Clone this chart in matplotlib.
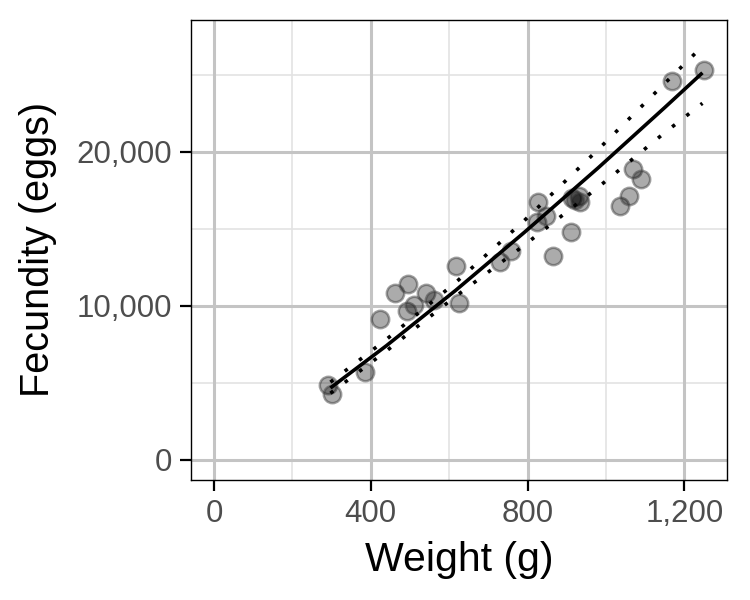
import numpy as np
import matplotlib
matplotlib.use("Agg")
import matplotlib.pyplot as plt

# data
weight = [290, 300, 385, 424, 462, 495, 492, 509, 541, 561, 618, 624, 730, 758,
          827, 824, 846, 865, 911, 914, 932, 934, 920, 1036, 1058, 1070, 1089,
          1168, 1250]
fecundity = [4894, 4298, 5714, 9143, 10807, 11429, 9640, 10062, 10807, 10360,
             12621, 10186, 12845, 13540, 16720, 15453, 15851, 13217, 14783,
             17019, 17143, 16720, 16900, 16472, 17143, 18882, 18261, 24596, 25342]

# fitted curve and its 95% band
fit_x = [297, 440, 617, 792, 980, 1150, 1246]
fit_y = [4675, 7420, 11020, 14780, 18960, 22880, 25130]
upper_y = [5050, 7830, 11530, 15550, 20150, 24450, 26850]
lower_y = [4330, 7080, 10630, 13950, 17700, 21250, 23150]

x_ticks = [0, 400, 800, 1200]
x_minor = [200, 600, 1000]
y_ticks = [0, 10000, 20000]
y_minor = [5000, 15000, 25000]

plt.rcParams['font.family'] = ['Liberation Sans', 'DejaVu Sans']

fig = plt.figure(figsize=(7.5, 6), dpi=100)
ax = fig.add_axes([0.255, 0.2, 0.714, 0.767])

for v in x_minor:
    ax.axvline(v, color='#e3e3e3', lw=1.2, zorder=0)
for v in y_minor:
    ax.axhline(v, color='#e3e3e3', lw=1.2, zorder=0)
for v in x_ticks:
    ax.axvline(v, color='#c4c4c4', lw=2.2, zorder=0)
for v in y_ticks:
    ax.axhline(v, color='#c4c4c4', lw=2.2, zorder=0)

ax.plot(weight, fecundity, 'o', ms=12.5, mfc=(0, 0, 0, 0.33),
        mec=(0.25, 0.25, 0.25, 0.5), mew=1.8, zorder=2)
ax.plot(fit_x, fit_y, color='black', lw=2.6, zorder=3, solid_capstyle='butt')
for band in (upper_y, lower_y):
    ax.plot(fit_x, band, color='black', lw=2.6, ls=(0, (1, 4)),
            dash_capstyle='butt', zorder=3)

ax.set_xlim(-58, 1308)
ax.set_ylim(-1300, 28570)
ax.set_xticks(x_ticks)
ax.set_xticklabels(['0', '400', '800', '1,200'])
ax.set_yticks(y_ticks)
ax.set_yticklabels(['0', '10,000', '20,000'])
ax.tick_params(length=8, width=1.6, color='black', labelcolor='#4d4d4d',
               labelsize=22.5, pad=6)
for sp in ax.spines.values():
    sp.set_color('black')
    sp.set_linewidth(1.0)

ax.set_xlabel('Weight (g)', fontsize=29.5, labelpad=8)
ax.set_ylabel('Fecundity (eggs)', fontsize=28.5, labelpad=14)

fig.savefig('out.png', dpi=100)
